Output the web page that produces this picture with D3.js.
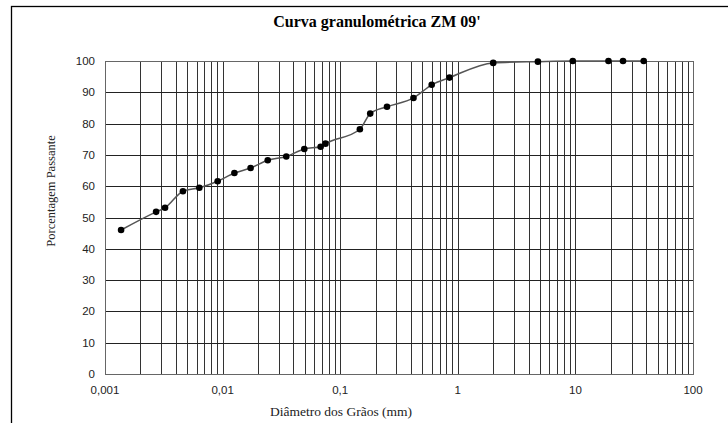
<!DOCTYPE html>
<html>
<head>
<meta charset="utf-8">
<script src="https://cdn.jsdelivr.net/npm/d3@7"></script>
<style>
  body { margin: 0; background: #fff; }
  .tick-label { font-family: "Liberation Sans", Arial, sans-serif; font-size: 11.5px; fill: #222; }
</style>
</head>
<body>
<div id="wrapper"></div>
<script>
// data: grain diameter (mm) and percentage passing
const diameters = [0.00137, 0.00272, 0.00324, 0.0046, 0.00634, 0.00908, 0.0126, 0.0173,
  0.0242, 0.0348, 0.0495, 0.0682, 0.075, 0.147, 0.18, 0.25, 0.42, 0.6, 0.85,
  2.0, 4.8, 9.5, 19.1, 25.4, 38.1]
const passing = [46.0, 51.8, 53.1, 58.4, 59.5, 61.6, 64.2, 65.8,
  68.3, 69.5, 71.9, 72.6, 73.6, 78.2, 83.2, 85.4, 88.2, 92.4, 94.7,
  99.4, 99.8, 100, 100, 100, 100]
const xTickValues = [0.001, 0.01, 0.1, 1, 10, 100]
const xTickLabels = ["0,001", "0,01", "0,1", "1", "10", "100"]
const yTickValues = [0, 10, 20, 30, 40, 50, 60, 70, 80, 90, 100]

const serif = "'Liberation Serif', 'Times New Roman', 'DejaVu Serif', serif"

const drawChart = () => {
  const data = diameters.map((d, i) => ({ d, p: passing[i] }))

  const xAccessor = (d) => d.d
  const yAccessor = (d) => d.p

  const dimensions = {
    width: 728,
    height: 423,
    margin: { top: 61, right: 35, bottom: 49, left: 105 },
  }
  dimensions.boundedWidth = dimensions.width - dimensions.margin.left - dimensions.margin.right
  dimensions.boundedHeight = dimensions.height - dimensions.margin.top - dimensions.margin.bottom

  const wrapper = d3.select("#wrapper")
    .append("svg")
    .attr("width", dimensions.width)
    .attr("height", dimensions.height)

  // outer frame
  wrapper.append("rect")
    .attr("x", 11.5)
    .attr("y", 6.5)
    .attr("width", 800)
    .attr("height", 600)
    .attr("fill", "none")
    .attr("stroke", "#000")
    .attr("stroke-width", 1.3)

  const bounds = wrapper.append("g")
    .attr("transform", `translate(${dimensions.margin.left}, ${dimensions.margin.top})`)

  const xScale = d3.scaleLog()
    .domain([0.001, 100])
    .range([0, dimensions.boundedWidth])

  const yScale = d3.scaleLinear()
    .domain([0, 100])
    .range([dimensions.boundedHeight, 0])

  // vertical grid (1..9 per decade)
  const minorTicks = []
  d3.range(-3, 2).forEach((e) => {
    d3.range(1, 10).forEach((m) => minorTicks.push(m * Math.pow(10, e)))
  })
  minorTicks.push(100)

  const snap = (v) => Math.round(v) + 0.5

  bounds.append("g")
    .selectAll("line")
    .data(minorTicks)
    .join("line")
    .attr("x1", (d) => snap(xScale(d)))
    .attr("x2", (d) => snap(xScale(d)))
    .attr("y1", 0)
    .attr("y2", dimensions.boundedHeight)
    .attr("stroke", "#333")
    .attr("stroke-width", 1)

  bounds.append("g")
    .selectAll("line")
    .data(yTickValues)
    .join("line")
    .attr("x1", 0)
    .attr("x2", dimensions.boundedWidth)
    .attr("y1", (d) => snap(yScale(d)))
    .attr("y2", (d) => snap(yScale(d)))
    .attr("stroke", "#222")
    .attr("stroke-width", 1)

  // plot border
  bounds.append("rect")
    .attr("x", 0.5)
    .attr("y", 0.5)
    .attr("width", dimensions.boundedWidth)
    .attr("height", dimensions.boundedHeight)
    .attr("fill", "none")
    .attr("stroke", "#666")

  // tick labels
  bounds.append("g")
    .selectAll("text")
    .data(yTickValues)
    .join("text")
    .attr("class", "tick-label")
    .attr("x", -10)
    .attr("y", (d) => yScale(d))
    .attr("dy", "0.35em")
    .attr("text-anchor", "end")
    .text((d) => d)

  bounds.append("g")
    .selectAll("text")
    .data(xTickValues)
    .join("text")
    .attr("class", "tick-label")
    .attr("x", (d) => xScale(d))
    .attr("y", dimensions.boundedHeight + 16)
    .attr("dy", "0.35em")
    .attr("text-anchor", "middle")
    .text((d, i) => xTickLabels[i])

  // data line
  const lineGenerator = d3.line()
    .x((d) => xScale(xAccessor(d)))
    .y((d) => yScale(yAccessor(d)))
    .curve(d3.curveMonotoneX)

  bounds.append("path")
    .attr("d", lineGenerator(data))
    .attr("fill", "none")
    .attr("stroke", "#555")
    .attr("stroke-width", 1.5)

  bounds.append("g")
    .selectAll("circle")
    .data(data)
    .join("circle")
    .attr("cx", (d) => xScale(xAccessor(d)))
    .attr("cy", (d) => yScale(yAccessor(d)))
    .attr("r", 3.3)
    .attr("fill", "#000")

  // titles
  wrapper.append("text")
    .attr("x", 377)
    .attr("y", 21)
    .attr("dy", "0.35em")
    .attr("text-anchor", "middle")
    .style("font-family", serif)
    .style("font-size", "16px")
    .style("font-weight", "bold")
    .text("Curva granulométrica ZM 09'")

  wrapper.append("text")
    .attr("x", 341)
    .attr("y", 411)
    .attr("dy", "0.35em")
    .attr("text-anchor", "middle")
    .style("font-family", serif)
    .style("font-size", "13.5px")
    .style("fill", "#222")
    .text("Diâmetro dos Grãos (mm)")

  wrapper.append("text")
    .attr("transform", "translate(51, 191) rotate(-90)")
    .attr("dy", "0.35em")
    .attr("text-anchor", "middle")
    .style("font-family", serif)
    .style("font-size", "12.5px")
    .style("fill", "#222")
    .text("Porcentagem Passante")
}

drawChart()
</script>
</body>
</html>
